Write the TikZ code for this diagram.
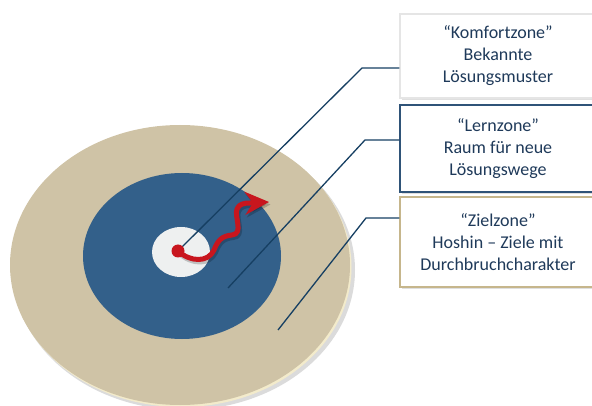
\documentclass[tikz,border=0pt]{standalone}
\usepackage{fontspec}
\setmainfont{Carlito}
\usetikzlibrary{arrows.meta,shadows}
\definecolor{discTan}{HTML}{CFC3A6}
\definecolor{rimCream}{HTML}{F3EBCB}
\definecolor{zoneBlue}{HTML}{33608A}
\definecolor{zoneWhite}{HTML}{EEF0F0}
\definecolor{arrowRed}{HTML}{C8161E}
\definecolor{leaderBlue}{HTML}{163F62}
\definecolor{textNavy}{HTML}{1F3A5A}
\definecolor{boxNavy}{HTML}{2F5378}
\definecolor{boxTan}{HTML}{C6B68C}
\begin{document}
\begin{tikzpicture}[x=1pt,y=-1pt,
  zonebox/.style={rectangle, fill=white, line width=1.2pt, minimum width=196pt,
    align=center, text=textNavy, font=\fontsize{18pt}{22pt}\selectfont,
    drop shadow={opacity=0.25, shadow xshift=2pt, shadow yshift=-2.5pt}},
  leader/.style={draw=leaderBlue, line width=1.3pt},
  redwave/.style={line width=5pt, line cap=round, line join=round,
    -{Stealth[length=24pt, width=23pt, inset=8pt]}}]
\useasboundingbox (0,0) rectangle (592,406);
% target disc
\fill[black, opacity=0.14] (184,270) ellipse [x radius=171pt, y radius=140pt];
\fill[rimCream] (181.5,267) ellipse [x radius=170pt, y radius=140pt];
\fill[discTan] (180,265) ellipse [x radius=170pt, y radius=140pt];
\fill[zoneBlue] (182,256) ellipse [x radius=99pt, y radius=83pt];
\fill[zoneWhite] (181,252) ellipse [x radius=29pt, y radius=25pt];
% boxes
\node[zonebox, draw=gray!20, minimum height=84pt] (k) at (498,56)
  {“Komfortzone”\\Bekannte\\Lösungsmuster};
\node[zonebox, draw=boxNavy, minimum height=87pt] (l) at (498,148.5)
  {“Lernzone”\\Raum für neue\\Lösungswege};
\node[zonebox, draw=boxTan, minimum height=90pt] (z) at (498,242)
  {“Zielzone”\\Hoshin – Ziele mit\\Durchbruchcharakter};
% leader corners and ends
\coordinate (c1) at (362,68);
\coordinate (c2) at (365,140);
\coordinate (e2) at (228,288);
\coordinate (c3) at (366,218);
\coordinate (e3) at (278,330);
\coordinate (dotc) at (178,251);
\draw[leader] (dotc) -- (c1) -- (c1 -| k.west);
\draw[leader] (e2) -- (c2) -- (c2 -| l.west);
\draw[leader] (e3) -- (c3) -- (c3 -| z.west);
% red path shadow
\draw[redwave, draw=black, opacity=0.2]
  (179.5,253.5) .. controls (191.5,264.5) and (209.5,265.5) .. (215.5,252.5)
  .. controls (219.5,242.5) and (223.5,238.5) .. (233.5,237.5)
  .. controls (245.5,236.5) and (235.5,218.5) .. (238.5,211.5)
  .. controls (240.5,206.5) and (245.5,205.5) .. (251.5,205.5) -- (270.5,204.5);
% red path
\node[circle, fill=arrowRed, minimum size=13pt, inner sep=0pt] (dot) at (dotc) {};
\draw[redwave, draw=arrowRed]
  (dot.center) .. controls (190,262) and (208,263) .. (214,250)
  .. controls (218,240) and (222,236) .. (232,235)
  .. controls (244,234) and (234,216) .. (237,209)
  .. controls (239,204) and (244,203) .. (250,203) -- (269,202);
\end{tikzpicture}
\end{document}
